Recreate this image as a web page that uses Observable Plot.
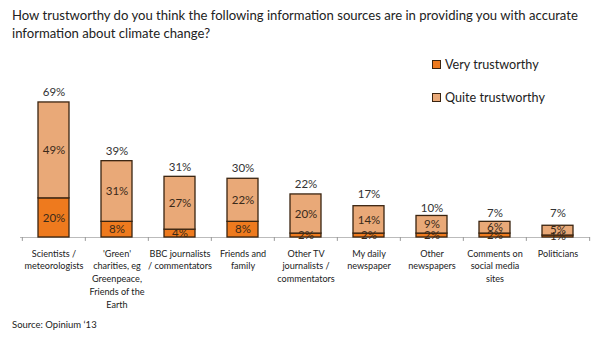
<!DOCTYPE html>
<html>
<head>
<meta charset="utf-8">
<script src="https://cdn.jsdelivr.net/npm/d3@7"></script>
<script src="https://cdn.jsdelivr.net/npm/@observablehq/plot@0.6"></script>
<style>
  body { margin: 0; background: #fff; font-family: Lato, "Open Sans", sans-serif; }
  #wrap { position: relative; width: 600px; height: 342px; overflow: hidden; }
  #title { position: absolute; left: 12px; top: 6px; width: 588px; font-size: 13.1px; line-height: 18px; color: #222; }
  #chart { position: absolute; left: 0; top: 44px; }
  #legend { position: absolute; left: 432px; top: 56px; font-size: 12.6px; color: #222; }
  .li { display: flex; align-items: center; height: 16px; margin-bottom: 17px; }
  .sw { width: 9px; height: 9px; border: 1px solid #3a2410; margin-right: 4px; box-sizing: border-box; }
  #source { position: absolute; left: 12px; top: 319px; font-size: 9.5px; color: #222; }
</style>
</head>
<body>
<div id="wrap">
  <div id="title">How trustworthy do you think the following information sources are in providing you with accurate information about climate change?</div>
  <div id="chart"></div>
  <div id="legend"></div>
  <div id="source">Source: Opinium ‘13</div>
</div>
<script>
const categories = [
  "Scientists /\nmeteorologists",
  "'Green'\ncharities, eg\nGreenpeace,\nFriends of the\nEarth",
  "BBC journalists\n/ commentators",
  "Friends and\nfamily",
  "Other TV\njournalists /\ncommentators",
  "My daily\nnewspaper",
  "Other\nnewspapers",
  "Comments on\nsocial media\nsites",
  "Politicians"
];
const series = ["Very trustworthy", "Quite trustworthy"];
const veryTrustworthy = [20, 8, 4, 8, 2, 2, 2, 2, 1];
const quiteTrustworthy = [49, 31, 27, 22, 20, 14, 9, 6, 5];
const totals = [69, 39, 31, 30, 22, 17, 10, 7, 7];
const colors = ["#ee7a1e", "#e9a978"];

const rows = [];
categories.forEach((c, i) => {
  rows.push({category: c, series: series[0], value: veryTrustworthy[i]});
  rows.push({category: c, series: series[1], value: quiteTrustworthy[i]});
});
const totalRows = categories.map((c, i) => ({category: c, total: totals[i]}));

const W = 600, ML = 20, MR = 10;
const step = (W - ML - MR) / categories.length;

const chart = Plot.plot({
  width: W,
  height: 270,
  marginLeft: ML,
  marginRight: MR,
  marginTop: 56,
  marginBottom: 77,
  style: {fontFamily: "Lato, 'Open Sans', sans-serif", background: "#fff"},
  x: {domain: categories, paddingInner: 0.51, paddingOuter: 0.255, label: null},
  y: {domain: [0, 70], axis: null},
  color: {domain: series, range: colors},
  marks: [
    Plot.ruleY([0], {stroke: "#bbb", strokeWidth: 1}),
    Plot.ruleX(categories, {x: d => d, dx: -step / 2, y1: 0, y2: -2, stroke: "#999"}),
    Plot.ruleX([categories[categories.length - 1]], {x: d => d, dx: step / 2, y1: 0, y2: -2, stroke: "#999"}),
    Plot.barY(rows, Plot.stackY({x: "category", y: "value", z: "series", fill: "series", stroke: "#3a2410", strokeWidth: 1.3, order: series})),
    Plot.text(rows, Plot.stackY({x: "category", y: "value", z: "series", text: d => d.value + "%", fill: "#3a2a1a", fontSize: 11.5, order: series})),
    Plot.text(totalRows, {x: "category", y: "total", text: d => d.total + "%", dy: -10, fill: "#333", fontSize: 11.5}),
    Plot.axisX({tickSize: 0, tickPadding: 10, fontSize: 9.1, lineHeight: 1.4, fill: "#222", label: null})
  ]
});
document.getElementById("chart").appendChild(chart);

const legend = document.getElementById("legend");
series.forEach((s, i) => {
  const row = document.createElement("div");
  row.className = "li";
  const sw = document.createElement("span");
  sw.className = "sw";
  sw.style.background = colors[i];
  const t = document.createElement("span");
  t.textContent = s;
  row.appendChild(sw);
  row.appendChild(t);
  legend.appendChild(row);
});
</script>
</body>
</html>
